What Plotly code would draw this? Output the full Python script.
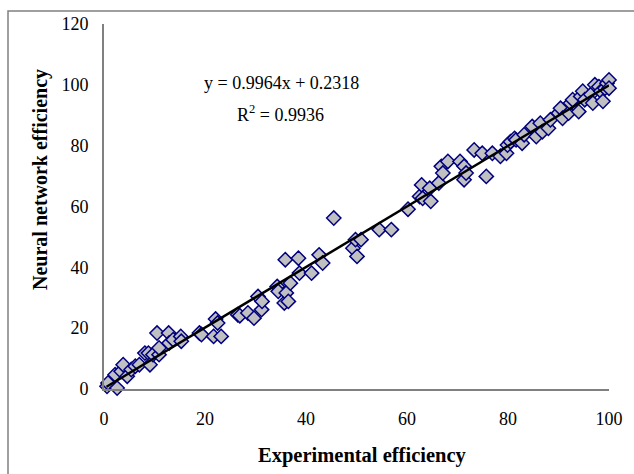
import plotly.graph_objects as go

experimental = [0.6, 0.8, 2.6, 2.2, 3.4, 3.8, 4.6, 5.4, 6.2, 7.0, 8.1, 8.8, 9.1, 9.7, 10.5, 10.9, 10.9, 12.8, 12.9, 13.7, 15.2, 15.3,
                18.9, 19.3, 21.7, 22.1, 22.5, 23.2, 26.5, 26.9, 28.5, 29.7, 30.5, 31.2, 31.3, 34.3, 34.5, 35.7, 35.9, 36.1,
                36.5, 36.9, 38.5, 38.7, 41.1, 42.6, 43.3, 45.5, 49.3, 49.8, 50.1, 50.9, 54.5, 56.9, 60.2, 62.5, 62.9, 63.1,
                64.7, 64.5, 66.3, 66.8, 67.1, 68.1, 70.5, 71.3, 71.3, 71.7, 73.3, 74.9, 75.7, 76.9, 78.5, 79.7, 79.9, 80.5,
                81.3, 81.6, 82.8, 83.2, 84.8, 85.6, 86.4, 86.8, 88.0, 88.4, 90.0, 90.4, 90.8, 92.0, 92.4, 92.8, 94.0, 94.4,
                94.8, 95.2, 96.4, 96.8, 97.2, 98.0, 98.4, 98.8, 99.2, 99.6, 100.0, 100.4, 100.0]
neural = [0.9, 2.0, 0.3, 4.7, 5.8, 8.0, 4.2, 6.4, 7.5, 8.0, 11.8, 11.8, 8.0, 11.3, 18.4, 11.3, 13.5, 18.4, 15.1, 16.2, 17.3, 15.7,
          18.4, 17.9, 17.3, 23.0, 21.7, 17.3, 24.4, 24.1, 25.0, 23.3, 30.4, 26.1, 28.8, 33.7, 32.1, 28.3, 42.5, 31.6,
          28.8, 34.8, 43.0, 38.1, 38.1, 44.1, 41.4, 56.2, 46.3, 49.1, 43.6, 49.1, 52.4, 52.4, 59.1, 63.3, 67.1, 62.7,
          61.7, 66.0, 67.7, 73.2, 71.0, 74.8, 74.8, 73.2, 68.8, 71.0, 78.6, 77.5, 69.9, 77.5, 76.5, 77.5, 80.2, 81.3,
          82.4, 81.9, 80.8, 83.6, 86.3, 83.0, 87.4, 84.6, 85.7, 88.5, 90.7, 92.3, 89.0, 90.7, 94.0, 95.1, 91.2, 96.2,
          97.9, 95.1, 96.8, 94.0, 100.0, 99.4, 97.9, 94.6, 98.9, 100.5, 101.6, 100.0, 98.9]

slope = 0.9964
intercept = 0.2318
r2 = 0.9936
fit_x = [0.5, 100.0]
fit_y = [slope * v + intercept for v in fit_x]

x_ticks = [0, 20, 40, 60, 80, 100]
y_ticks = [0, 20, 40, 60, 80, 100, 120]

FONT = "Liberation Serif"

fig = go.Figure()
fig.add_trace(go.Scatter(
    x=experimental, y=neural, mode="markers",
    marker=dict(symbol="diamond", size=11, color="#C0C0C0",
                line=dict(color="#000080", width=1.5)),
    showlegend=False, cliponaxis=False))
fig.add_trace(go.Scatter(
    x=fit_x, y=fit_y, mode="lines",
    line=dict(color="black", width=2.5),
    showlegend=False))

fig.update_layout(
    width=634, height=474,
    margin=dict(l=104, r=25, t=24, b=85),
    paper_bgcolor="white", plot_bgcolor="white",
    font=dict(family=FONT, size=18, color="black"),
    xaxis=dict(range=[0, 100], tickvals=x_ticks, showgrid=False, zeroline=False,
               showline=True, linecolor="#808080", linewidth=2, ticks="",
               tickfont=dict(size=18), ticklabelstandoff=12),
    yaxis=dict(range=[0, 120], tickvals=y_ticks, showgrid=False, zeroline=False,
               showline=True, linecolor="#808080", linewidth=2, ticks="",
               tickfont=dict(size=18), ticklabelstandoff=10),
    annotations=[
        dict(x=35.2, y=100.6, xref="x", yref="y", xanchor="center", yanchor="middle",
             text=f"y = {slope}x + {intercept}", showarrow=False, font=dict(size=18)),
        dict(x=34.9, y=90.6, xref="x", yref="y", xanchor="center", yanchor="middle",
             text=f"R<sup>2</sup> = {r2}", showarrow=False, font=dict(size=18)),
        dict(x=(362 - 104) / 505, y=-(455 - 389) / 365, xref="paper", yref="paper",
             xanchor="center", yanchor="middle",
             text="<b>Experimental efficiency</b>", showarrow=False, font=dict(size=20.5)),
        dict(x=(40 - 104) / 505, y=1 - (180 - 24) / 365, xref="paper", yref="paper",
             xanchor="center", yanchor="middle",
             text="<b>Neural network efficiency</b>", showarrow=False, textangle=-90,
             font=dict(size=20)),
    ],
    shapes=[dict(type="rect", xref="paper", yref="paper",
                 x0=(8 - 104) / 505, y0=-1, x1=2, y1=1 + (24 - 11) / 365,
                 line=dict(color="#808080", width=1.5), fillcolor="rgba(0,0,0,0)", layer="below")],
)

fig.write_html("out.html")
